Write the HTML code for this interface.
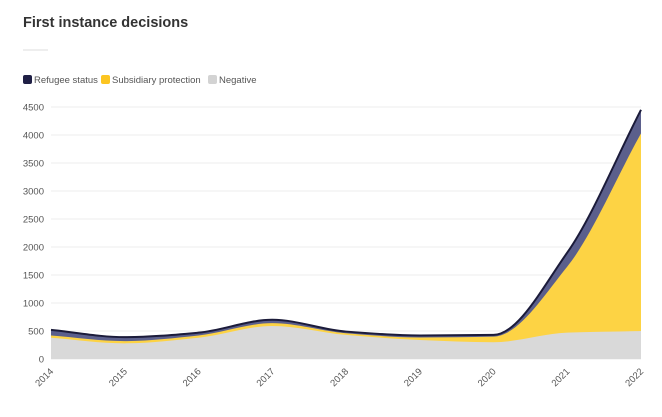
<!DOCTYPE html>
<html><head><meta charset="utf-8"><style>
body{margin:0;background:#fff;width:662px;height:412px;overflow:hidden;font-family:"Liberation Sans",sans-serif}
</style></head><body>
<svg id="s" width="662" height="412" xmlns="http://www.w3.org/2000/svg">
<text x="23" y="27" font-size="14.5" font-weight="bold" fill="#333">First instance decisions</text>
<line x1="23" y1="50" x2="48" y2="50" stroke="#ddd" stroke-width="1"/>
<rect x="23" y="75" width="9" height="9" rx="2" fill="#1f1f45"/>
<text x="34" y="83" font-size="9.5" fill="#555">Refugee status</text>
<rect x="101" y="75" width="9" height="9" rx="2" fill="#fcc521"/>
<text x="112" y="83" font-size="9.5" fill="#555">Subsidiary protection</text>
<rect x="208" y="75" width="9" height="9" rx="2" fill="#d3d3d3"/>
<text x="219" y="83" font-size="9.5" fill="#555">Negative</text>
<g id="g"></g>
</svg>
<script>
var g=document.getElementById('g'),ns="http://www.w3.org/2000/svg",h="";
var X=i=>51+i*73.75, Y=v=>359-v*252/4500;
for(var k=0;k<=9;k++){var y=Y(k*500);h+='<line x1="51" x2="641" y1="'+y+'" y2="'+y+'" stroke="#eee"/>';h+='<text x="44" y="'+(y+3.5)+'" font-size="9.5" fill="#555" text-anchor="end">'+(k*500)+'</text>';}
var neg=[380,280,380,590,430,340,300,470,500];
var sub=[420,320,420,640,460,385,400,1650,4030];
var tot=[520,390,470,700,490,420,430,1900,4450];
function mono(ys){var n=ys.length,xs=ys.map((_,i)=>X(i)),py=ys.map(Y),d=[],m=[];
for(var i=0;i<n-1;i++)d.push((py[i+1]-py[i])/(xs[i+1]-xs[i]));
m[0]=d[0];m[n-1]=d[n-2];
for(i=1;i<n-1;i++){m[i]=(d[i-1]*d[i]<=0)?0:(2/(1/d[i-1]+1/d[i]));}
var p="M"+xs[0]+","+py[0];
for(i=0;i<n-1;i++){var dx=(xs[i+1]-xs[i])/3;p+="C"+(xs[i]+dx)+","+(py[i]+m[i]*dx)+" "+(xs[i+1]-dx)+","+(py[i+1]-m[i+1]*dx)+" "+xs[i+1]+","+py[i+1];}
return p;}
var close="L641,359L51,359Z";
h+='<path d="'+mono(tot)+close+'" fill="#5b5f8c"/>';
h+='<path d="'+mono(sub)+close+'" fill="#fdd344"/>';
h+='<path d="'+mono(neg)+close+'" fill="#d9d9d9"/>';
h+='<path d="'+mono(tot)+'" fill="none" stroke="#1b1b3a" stroke-width="2"/>';
for(var i=0;i<9;i++){var x=X(i);h+='<text transform="translate('+(x+3)+',372) rotate(-45)" font-size="9.5" fill="#555" text-anchor="end">'+(2014+i)+'</text>';}
g.innerHTML=h;
</script>
</body></html>
